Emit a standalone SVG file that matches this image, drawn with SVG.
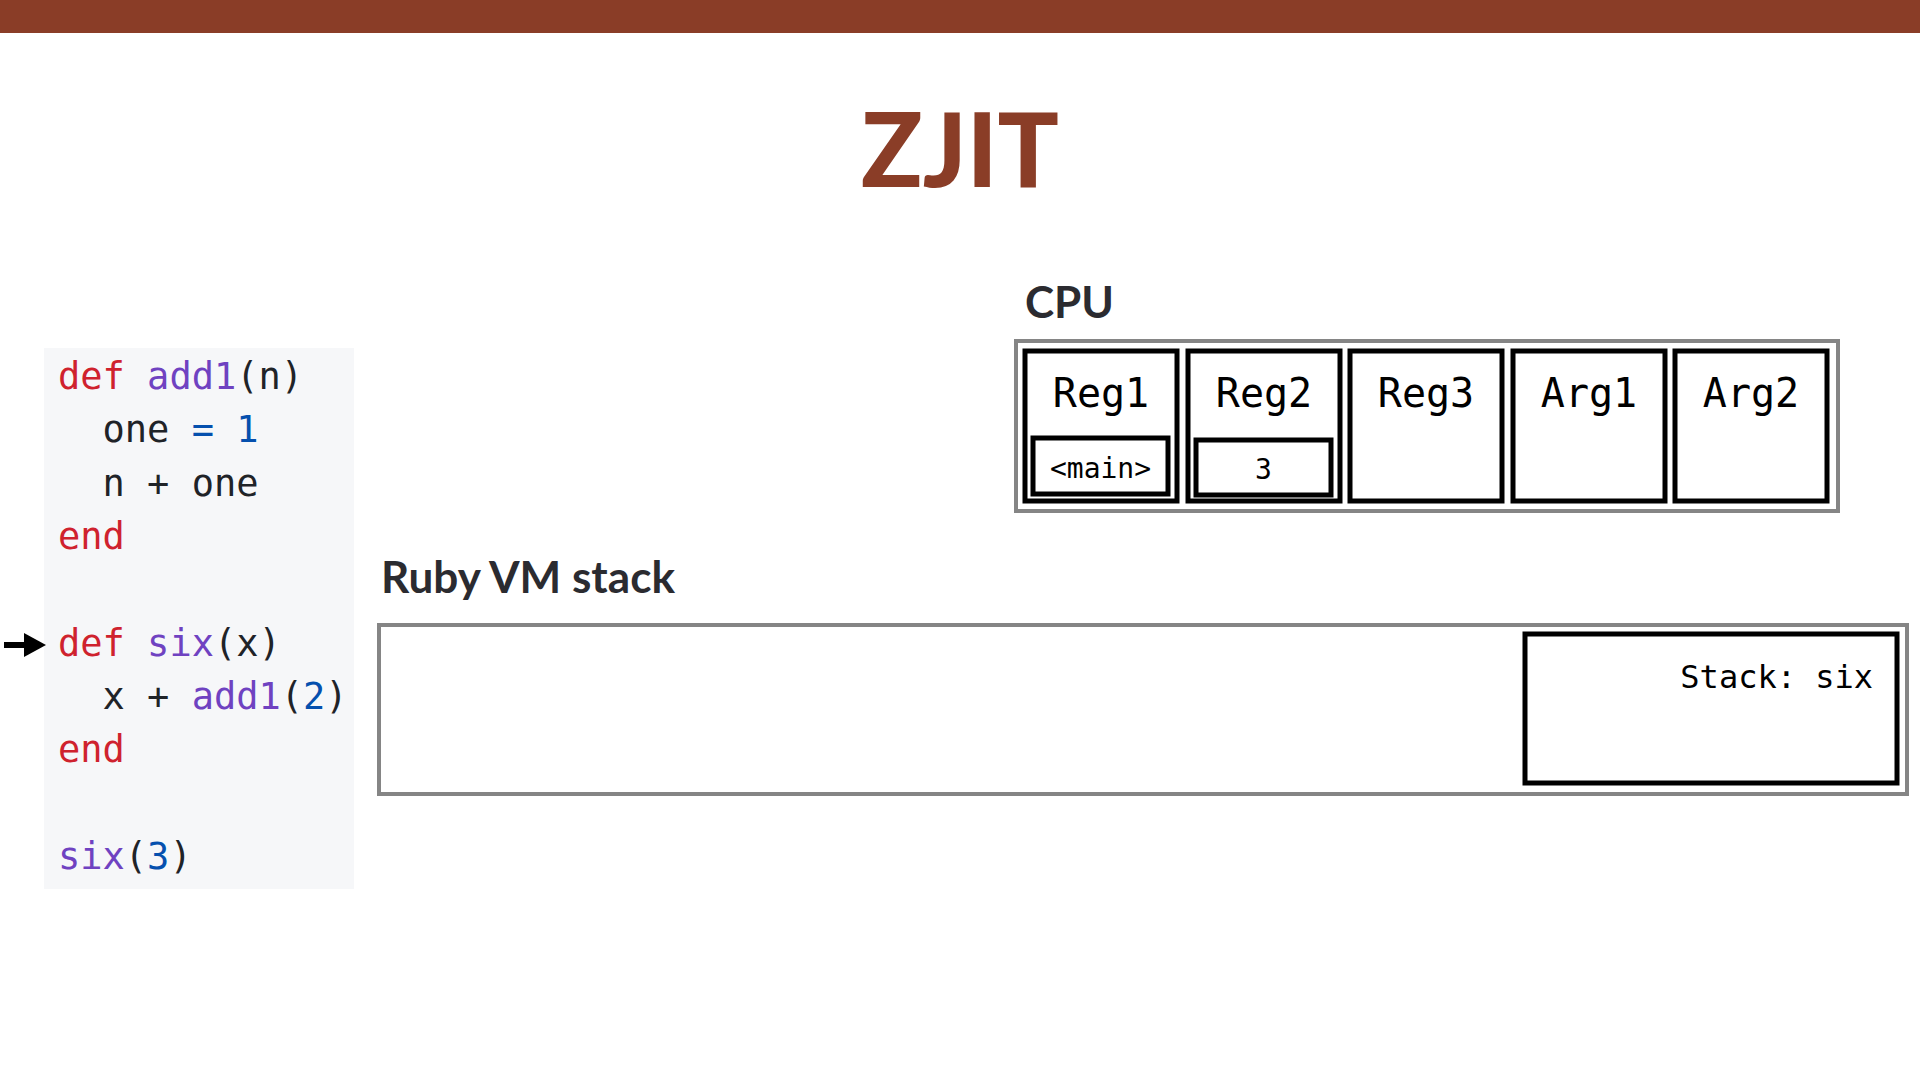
<svg xmlns="http://www.w3.org/2000/svg" width="1920" height="1080" viewBox="0 0 1920 1080">
<style>
.heading{font-family:Lato,"Open Sans",sans-serif;font-weight:700;fill:#2b2b30}
.mono{font-family:"DejaVu Sans Mono","Liberation Mono",monospace}
.code{font-family:"DejaVu Sans Mono","Liberation Mono",monospace;font-size:37px;fill:#1f2328}
.kw{fill:#cf222e}
.fn{fill:#6f42c1}
.num{fill:#0550ae}
.outer{fill:#fff;stroke:#858585;stroke-width:4}
.cell{fill:#fff;stroke:#000;stroke-width:5}
.reglabel{font-family:"DejaVu Sans Mono","Liberation Mono",monospace;font-size:40px;fill:#000;text-anchor:middle}
</style>
<rect x="0" y="0" width="1920" height="1080" fill="#fff"/>
<rect x="0" y="0" width="1920" height="33" fill="#8a3d27"/>
<text x="960" y="187" text-anchor="middle" font-family="Lato,'Open Sans',sans-serif" font-weight="900" font-size="102" fill="#8a3d27" textLength="198" lengthAdjust="spacingAndGlyphs">ZJIT</text>

<g id="code">
<rect x="44" y="348" width="310" height="541" fill="#f6f7f9"/>
<text class="code" x="58" y="389"><tspan class="kw">def</tspan> <tspan class="fn">add1</tspan>(n)</text>
<text class="code" x="58" y="442" xml:space="preserve">  one <tspan class="num">=</tspan> <tspan class="num">1</tspan></text>
<text class="code" x="58" y="496" xml:space="preserve">  n + one</text>
<text class="code" x="58" y="549"><tspan class="kw">end</tspan></text>
<text class="code" x="58" y="656"><tspan class="kw">def</tspan> <tspan class="fn">six</tspan>(x)</text>
<text class="code" x="58" y="709" xml:space="preserve">  x + <tspan class="fn">add1</tspan>(<tspan class="num">2</tspan>)</text>
<text class="code" x="58" y="762"><tspan class="kw">end</tspan></text>
<text class="code" x="58" y="869"><tspan class="fn">six</tspan>(<tspan class="num">3</tspan>)</text>
</g>

<g id="connectors">
<path d="M4,645 L28,645" stroke="#000" stroke-width="6"/>
<path d="M24,633 L46,645 L24,657 z" fill="#000"/>
</g>

<g id="cpu">
<text class="heading" x="1025" y="318" font-size="44">CPU</text>
<rect class="outer" x="1016" y="341" width="822" height="170"/>
<g id="reg1">
<rect class="cell" x="1025" y="351" width="152" height="150"/>
<text class="reglabel" x="1101" y="407">Reg1</text>
<rect class="cell" x="1033" y="438" width="135" height="56"/>
<text class="mono" x="1100.5" y="478" font-size="28" text-anchor="middle">&lt;main&gt;</text>
</g>
<g id="reg2">
<rect class="cell" x="1188" y="351" width="152" height="150"/>
<text class="reglabel" x="1264" y="407">Reg2</text>
<rect class="cell" x="1196" y="440" width="135" height="55"/>
<text class="mono" x="1263.5" y="479" font-size="28" text-anchor="middle">3</text>
</g>
<g id="reg3">
<rect class="cell" x="1350" y="351" width="152" height="150"/>
<text class="reglabel" x="1426" y="407">Reg3</text>
</g>
<g id="arg1">
<rect class="cell" x="1513" y="351" width="152" height="150"/>
<text class="reglabel" x="1589" y="407">Arg1</text>
</g>
<g id="arg2">
<rect class="cell" x="1675" y="351" width="152" height="150"/>
<text class="reglabel" x="1751" y="407">Arg2</text>
</g>
</g>

<g id="vmstack">
<text class="heading" x="381" y="593" font-size="44" textLength="294" lengthAdjust="spacingAndGlyphs">Ruby VM stack</text>
<rect class="outer" x="379" y="625" width="1528" height="169"/>
<g id="frame-six">
<rect class="cell" x="1525" y="634" width="372" height="149"/>
<text class="mono" x="1873" y="688" font-size="32" text-anchor="end">Stack: six</text>
</g>
</g>
</svg>
